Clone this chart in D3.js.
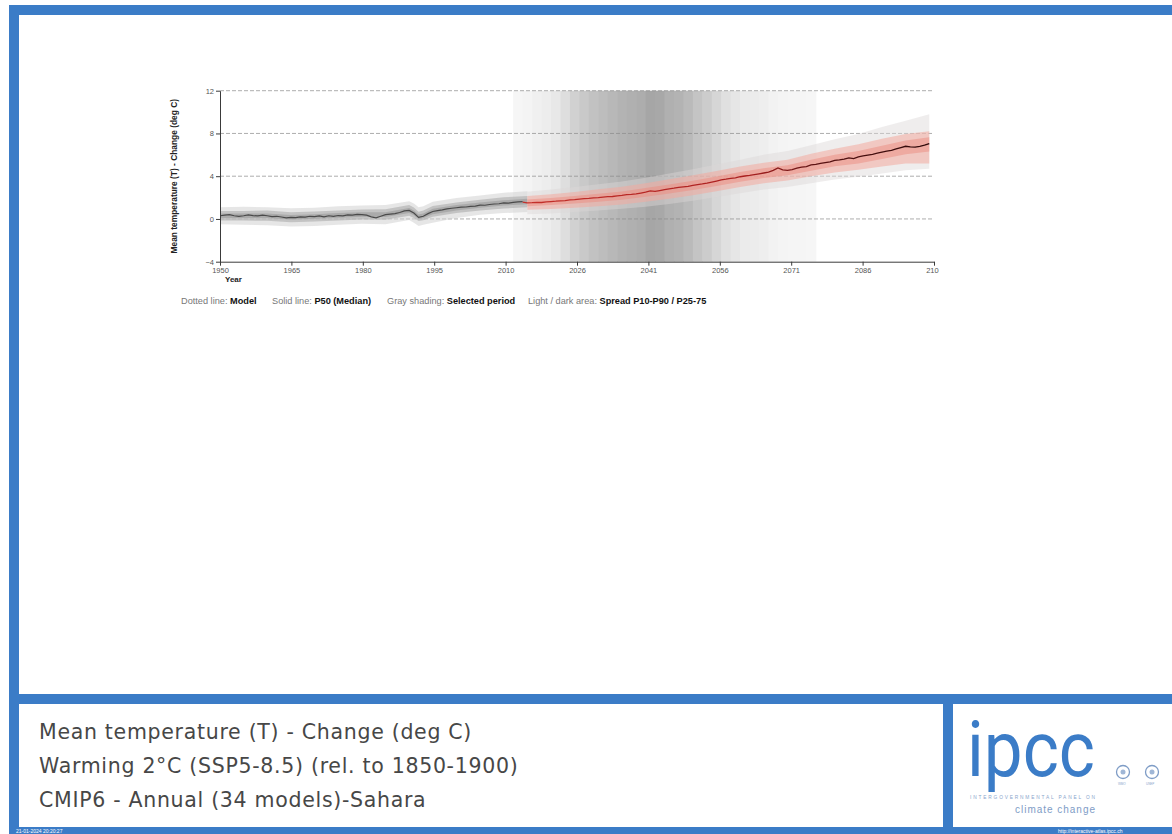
<!DOCTYPE html>
<html>
<head>
<meta charset="utf-8">
<script src="https://cdn.jsdelivr.net/npm/d3@7"></script>
<style>
  html, body { margin: 0; padding: 0; background: #fff; }
  svg { display: block; font-family: "Liberation Sans", Arial, sans-serif; }
</style>
</head>
<body>
<svg id="page" width="1172" height="834"></svg>
<script>
// ---- data ----
var histYears = d3.range(1950, 2015)
var histMedian = [
  0.30, 0.35, 0.40, 0.30, 0.25, 0.30, 0.38, 0.32, 0.28, 0.35,
  0.30, 0.22, 0.25, 0.18, 0.10, 0.15, 0.12, 0.20, 0.18, 0.25,
  0.22, 0.28, 0.20, 0.30, 0.25, 0.32, 0.28, 0.38, 0.35, 0.42,
  0.40, 0.35, 0.20, 0.10, 0.25, 0.40, 0.45, 0.50, 0.60, 0.75,
  0.80, 0.55, 0.15, 0.25, 0.50, 0.70, 0.78, 0.85, 0.95, 1.00,
  1.05, 1.10, 1.12, 1.18, 1.20, 1.30, 1.28, 1.35, 1.40, 1.42,
  1.50, 1.48, 1.55, 1.60, 1.62
]
var projYears = d3.range(2014, 2101)
var projMedian = [
  1.58,
  1.50, 1.52, 1.55, 1.54, 1.60, 1.63, 1.66, 1.70, 1.72, 1.78,
  1.80, 1.85, 1.90, 1.92, 1.98, 2.00, 2.05, 2.08, 2.10, 2.16,
  2.20, 2.28, 2.30, 2.35, 2.42, 2.50, 2.62, 2.58, 2.66, 2.75,
  2.82, 2.88, 2.95, 3.00, 3.05, 3.15, 3.22, 3.28, 3.35, 3.45,
  3.55, 3.65, 3.72, 3.80, 3.85, 3.95, 4.02, 4.08, 4.15, 4.22,
  4.30, 4.38, 4.55, 4.78, 4.60, 4.55, 4.62, 4.75, 4.85, 4.90,
  5.05, 5.10, 5.20, 5.28, 5.35, 5.48, 5.52, 5.60, 5.72, 5.65,
  5.80, 5.90, 5.98, 6.05, 6.15, 6.25, 6.35, 6.42, 6.55, 6.68,
  6.80, 6.75, 6.72, 6.80, 6.90, 7.05
]

// spread of the historical runs
var histSpreadYears = [1950, 1955, 1960, 1965, 1970, 1975, 1980, 1985, 1990, 1991, 1992, 1993, 1995, 2000, 2005, 2010, 2015]
var histP10 = [-0.15, -0.15, -0.18, -0.30, -0.25, -0.15, -0.05, -0.08, 0.30, 0.10, -0.20, -0.12, 0.20, 0.55, 0.80, 0.98, 1.10]
var histP25 = [0.10, 0.10, 0.08, -0.05, 0.02, 0.12, 0.20, 0.18, 0.55, 0.35, 0.00, 0.10, 0.45, 0.80, 1.05, 1.25, 1.38]
var histP75 = [0.50, 0.50, 0.50, 0.38, 0.45, 0.55, 0.62, 0.62, 1.02, 0.80, 0.42, 0.52, 0.95, 1.30, 1.55, 1.75, 1.88]
var histP90 = [0.75, 0.75, 0.78, 0.62, 0.70, 0.80, 0.88, 0.90, 1.30, 1.08, 0.68, 0.78, 1.22, 1.55, 1.80, 2.02, 2.15]
var histMin = [-0.50, -0.55, -0.60, -0.70, -0.65, -0.55, -0.45, -0.50, -0.10, -0.35, -0.65, -0.55, -0.35, 0.10, 0.40, 0.55, 0.65]
var histMax = [1.10, 1.15, 1.10, 1.00, 1.05, 1.20, 1.25, 1.30, 1.65, 1.45, 1.10, 1.20, 1.60, 1.95, 2.20, 2.45, 2.60]

// spread of the SSP5-8.5 runs
var projSpreadYears = d3.range(2015, 2101, 5)
var projP10 = [0.85, 0.92, 1.05, 1.20, 1.35, 1.62, 1.90, 2.22, 2.60, 3.00, 3.35, 3.60, 4.00, 4.35, 4.60, 4.90, 5.20, 5.20]
var projP25 = [1.18, 1.30, 1.45, 1.62, 1.80, 2.08, 2.38, 2.70, 3.08, 3.48, 3.82, 4.08, 4.52, 4.92, 5.20, 5.60, 6.05, 6.30]
var projP75 = [1.82, 1.95, 2.15, 2.36, 2.58, 2.90, 3.22, 3.58, 3.98, 4.40, 4.75, 5.02, 5.55, 6.00, 6.35, 6.85, 7.35, 7.65]
var projP90 = [2.15, 2.32, 2.52, 2.78, 3.02, 3.35, 3.72, 4.08, 4.48, 4.90, 5.25, 5.55, 6.10, 6.58, 6.98, 7.50, 7.95, 8.20]
var projMin = [0.45, 0.50, 0.65, 0.80, 0.95, 1.15, 1.40, 1.70, 2.05, 2.40, 2.75, 3.00, 3.35, 3.70, 3.95, 4.25, 4.55, 4.70]
var projMax = [2.55, 2.75, 3.00, 3.25, 3.50, 3.85, 4.25, 4.65, 5.10, 5.55, 6.00, 6.35, 6.90, 7.45, 7.95, 8.60, 9.20, 9.80]

// gray shading: selected period, darkness per 2-year bin starting 2012
var shadeStart = 2012
var shadeLevels = [
  0.035, 0.045, 0.060, 0.070, 0.090, 0.130, 0.180, 0.210, 0.240, 0.260,
  0.280, 0.300, 0.310, 0.320, 0.350, 0.340, 0.310, 0.300, 0.270, 0.230,
  0.200, 0.160, 0.120, 0.100, 0.080, 0.075, 0.065, 0.050, 0.045, 0.040,
  0.040, 0.035
]

var xTickYears = [1950, 1965.1, 1980.2, 1995.3, 2010.4, 2025.5, 2040.6, 2055.7, 2070.8, 2085.9, 2101]
var yTicks = [-4, 0, 4, 8, 12]
var yGrid = [0, 4, 8, 12]

var legendItems = [
  ['Dotted line: ', 'Model'],
  ['Solid line: ', 'P50 (Median)'],
  ['Gray shading: ', 'Selected period'],
  ['Light / dark area: ', 'Spread P10-P90 / P25-75']
]
var titleLines = [
  'Mean temperature (T) - Change (deg C)',
  'Warming 2°C (SSP5-8.5) (rel. to 1850-1900)',
  'CMIP6 - Annual (34 models)-Sahara'
]

var blue = '#3b7cc7'
var svg = d3.select('#page')

/*
  Page frame
*/
var frame = svg.append('g')
frame.append('rect').attr('x', 9).attr('y', 5).attr('width', 1163).attr('height', 10).attr('fill', blue)
frame.append('rect').attr('x', 9).attr('y', 5).attr('width', 10).attr('height', 829).attr('fill', blue)
frame.append('rect').attr('x', 9).attr('y', 694).attr('width', 1163).attr('height', 10).attr('fill', blue)
frame.append('rect').attr('x', 9).attr('y', 827).attr('width', 1163).attr('height', 7).attr('fill', blue)
frame.append('rect').attr('x', 943).attr('y', 694).attr('width', 10).attr('height', 140).attr('fill', blue)

frame.append('text').attr('x', 16).attr('y', 832.5)
  .attr('font-size', '5px').attr('fill', '#fff')
  .text('21-01-2024 20:20:27')
frame.append('text').attr('x', 1058).attr('y', 832.5)
  .attr('font-size', '5px').attr('fill', '#fff')
  .text('http://interactive-atlas.ipcc.ch')

/*
  Chart
*/
var x = d3.scaleLinear().domain([1950, 2101]).range([220, 934])
var y = d3.scaleLinear().domain([-4, 12]).range([261.7, 90.7])

svg.append('clipPath').attr('id', 'imgclip')
  .append('rect').attr('x', 150).attr('y', 80).attr('width', 789).attr('height', 240)
var chart = svg.append('g').attr('clip-path', 'url(#imgclip)')

// selected period shading (opaque grays so the bins join without seams)
var shadeColor = d3.interpolateRgb('#ffffff', '#000000')
chart.append('g').selectAll('rect')
  .data(shadeLevels)
  .join('rect')
  .attr('x', (d, i) => x(shadeStart + 2 * i))
  .attr('width', x(shadeStart + 2) - x(shadeStart) + 0.6)
  .attr('y', y(12))
  .attr('height', y(-4) - y(12))
  .attr('fill', d => shadeColor(d))

// dashed grid
chart.append('g').selectAll('line')
  .data(yGrid)
  .join('line')
  .attr('x1', x(1950)).attr('x2', x(2101))
  .attr('y1', d => y(d)).attr('y2', d => y(d))
  .attr('stroke', '#8a8a8a')
  .attr('stroke-width', 0.7)
  .attr('stroke-dasharray', '4,2')

function band(years, lo, hi) {
  return d3.area()
    .x((d, i) => x(years[i]))
    .y0((d, i) => y(lo[i]))
    .y1((d, i) => y(hi[i]))(years)
}

// historical spread
chart.append('path').attr('d', band(histSpreadYears, histMin, histMax))
  .attr('fill', '#d2d2d2').attr('fill-opacity', 0.55)
chart.append('path').attr('d', band(histSpreadYears, histP10, histP90))
  .attr('fill', '#b4b4b4').attr('fill-opacity', 0.7)
chart.append('path').attr('d', band(histSpreadYears, histP25, histP75))
  .attr('fill', '#9a9a9a').attr('fill-opacity', 0.6)

// projection spread
chart.append('path').attr('d', band(projSpreadYears, projMin, projMax))
  .attr('fill', '#dcd6d6').attr('fill-opacity', 0.45)
chart.append('path').attr('d', band(projSpreadYears, projP10, projP90))
  .attr('fill', '#f3a99f').attr('fill-opacity', 0.55)
chart.append('path').attr('d', band(projSpreadYears, projP25, projP75))
  .attr('fill', '#ec8b80').attr('fill-opacity', 0.5)

var medLine = d3.line()
  .x(d => x(d[0]))
  .y(d => y(d[1]))

chart.append('path')
  .attr('d', medLine(histYears.map((yr, i) => [yr, histMedian[i]])))
  .attr('fill', 'none')
  .attr('stroke', '#4a4a4a')
  .attr('stroke-width', 1.2)

var grad = svg.append('defs').append('linearGradient')
  .attr('id', 'medgrad')
  .attr('gradientUnits', 'userSpaceOnUse')
  .attr('x1', x(2015)).attr('x2', x(2100))
  .attr('y1', 0).attr('y2', 0)
grad.append('stop').attr('offset', 0).attr('stop-color', '#c4302a')
grad.append('stop').attr('offset', 0.55).attr('stop-color', '#aa2020')
grad.append('stop').attr('offset', 0.72).attr('stop-color', '#5a1212')
grad.append('stop').attr('offset', 1).attr('stop-color', '#2e0a0a')

chart.append('path')
  .attr('d', medLine(projYears.map((yr, i) => [yr, projMedian[i]])))
  .attr('fill', 'none')
  .attr('stroke', 'url(#medgrad)')
  .attr('stroke-width', 1.3)

// axes
var yAxis = chart.append('g')
  .attr('transform', 'translate(' + x(1950) + ',0)')
  .call(d3.axisLeft(y).tickValues(yTicks).tickSize(4).tickSizeOuter(0))
var xAxis = chart.append('g')
  .attr('transform', 'translate(0,' + y(-4) + ')')
  .call(d3.axisBottom(x).tickValues(xTickYears).tickFormat(d => Math.round(d)).tickSize(4).tickSizeOuter(0))

;[yAxis, xAxis].forEach(a => {
  a.select('.domain').attr('stroke', '#3a3a3a').attr('stroke-width', 1)
  a.selectAll('.tick line').attr('stroke', '#3a3a3a')
  a.selectAll('.tick text')
    .attr('fill', '#555')
    .attr('font-size', '7.5px')
    .attr('font-family', '"Liberation Sans", Arial, sans-serif')
})
yAxis.selectAll('.tick text').attr('x', -6)
xAxis.selectAll('.tick text').attr('y', 6)

chart.append('text')
  .attr('x', x(1950) + 5).attr('y', 282)
  .attr('font-size', '8px').attr('font-weight', 'bold').attr('fill', '#222')
  .text('Year')

chart.append('text')
  .attr('transform', 'translate(177,' + y(4) + ') rotate(-90)')
  .attr('text-anchor', 'middle')
  .attr('font-size', '8.4px').attr('font-weight', 'bold').attr('fill', '#222')
  .text('Mean temperature (T) - Change (deg C)')

// legend row
var legendX = [181, 272, 387, 528]
var legend = chart.append('g')
legendItems.forEach((item, i) => {
  var t = legend.append('text')
    .attr('x', legendX[i]).attr('y', 304)
    .attr('font-size', '9.2px')
  t.append('tspan').attr('fill', '#777').text(item[0])
  t.append('tspan').attr('fill', '#111').attr('font-weight', 'bold').text(item[1])
})

/*
  Title block and logo
*/
svg.append('g').selectAll('text')
  .data(titleLines)
  .join('text')
  .attr('x', 39)
  .attr('y', (d, i) => 739 + i * 34)
  .attr('font-family', '"DejaVu Sans", sans-serif')
  .attr('font-size', '20.5px')
  .attr('letter-spacing', '0.7px')
  .attr('fill', '#474747')
  .text(d => d)

var logo = svg.append('g')
logo.append('text')
  .attr('x', 967).attr('y', 776)
  .attr('font-family', 'Roboto, sans-serif')
  .attr('font-size', '78px')
  .attr('fill', blue)
  .attr('textLength', 128)
  .attr('lengthAdjust', 'spacingAndGlyphs')
  .text('ipcc')
logo.append('text')
  .attr('x', 970).attr('y', 799)
  .attr('font-size', '4.8px').attr('fill', '#8aa6cc')
  .attr('textLength', 125)
  .text('INTERGOVERNMENTAL PANEL ON')
logo.append('text')
  .attr('x', 1015).attr('y', 813)
  .attr('font-size', '10px').attr('fill', '#7e9cc6')
  .attr('textLength', 80)
  .text('climate change')
;[1123, 1152].forEach(cx => {
  logo.append('circle').attr('cx', cx).attr('cy', 772).attr('r', 6.5)
    .attr('fill', 'none').attr('stroke', '#7e9cc6').attr('stroke-width', 1.3)
  logo.append('circle').attr('cx', cx).attr('cy', 772).attr('r', 2.5)
    .attr('fill', '#9fb6d6')
})
logo.append('text').attr('x', 1118).attr('y', 785).attr('font-size', '3px').attr('fill', '#8aa6cc').text('WMO')
logo.append('text').attr('x', 1146).attr('y', 785).attr('font-size', '3px').attr('fill', '#8aa6cc').text('UNEP')
</script>
</body>
</html>
